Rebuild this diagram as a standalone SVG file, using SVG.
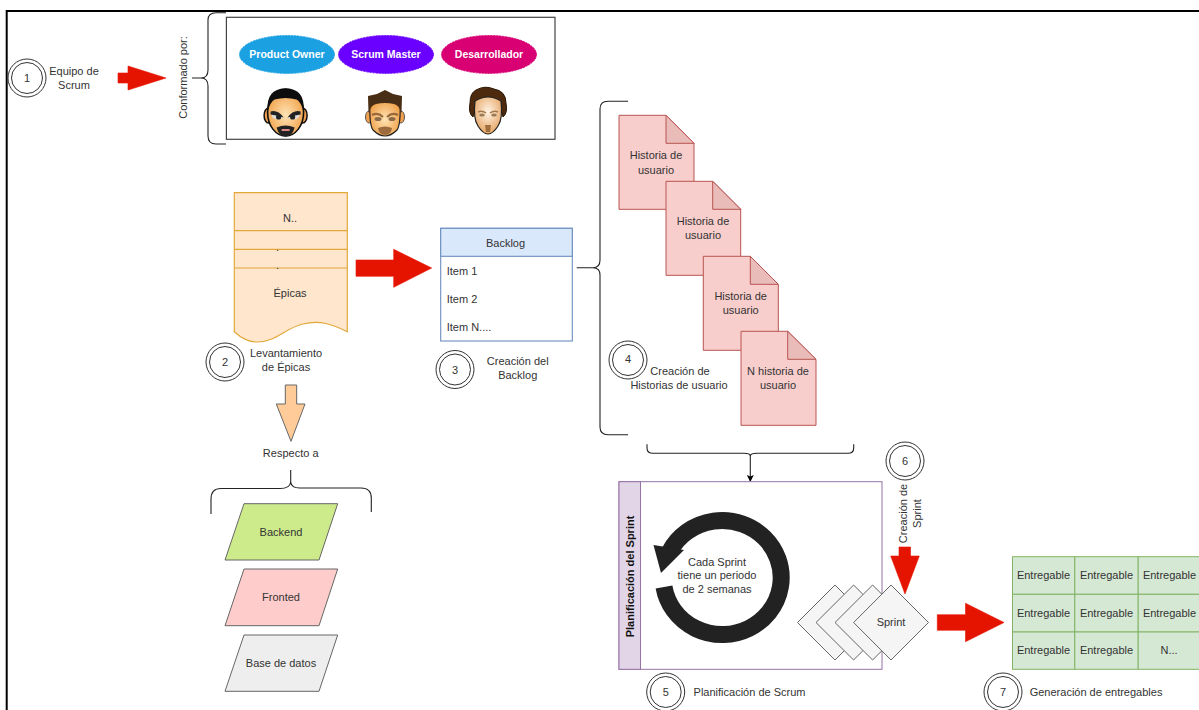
<svg xmlns="http://www.w3.org/2000/svg" width="1199" height="710" viewBox="0 0 1199 710">
<style>
text{font-family:"Liberation Sans",Arial,sans-serif;font-size:11px;fill:#333;text-anchor:middle;dominant-baseline:central}
.st{text-anchor:start}
.w{fill:#fff;font-weight:bold;font-size:10.5px}
.b{font-weight:bold;fill:#111}
.o{fill:#fff;stroke:#333;stroke-width:1}
.red{fill:#e51400;stroke:#e51400;stroke-width:.6}
.br{fill:none;stroke:#222;stroke-width:1.1}
.doc{fill:#f8cecc;stroke:#b85450;stroke-width:1}
.fold{fill:#e9bcba;stroke:#b85450;stroke-width:1}
.par{stroke:#666;stroke-width:1}
.dia{fill:#f5f5f5;stroke:#666;stroke-width:1}
.cell{fill:#d5e8d4;stroke:#82b366;stroke-width:1}
.ep{fill:#ffe6cc;stroke:#e2a93a;stroke-width:1.2}
.role{stroke-width:1;stroke-dasharray:2 1}
</style>
<defs>
<radialGradient id="skin" cx=".5" cy=".55" r=".6"><stop offset="0" stop-color="#ffe3b5"/><stop offset="1" stop-color="#ee9a3e"/></radialGradient>
<radialGradient id="skin3" cx=".5" cy=".4" r=".6"><stop offset="0" stop-color="#fff3e4"/><stop offset="1" stop-color="#e5a565"/></radialGradient>
<filter id="soft" x="-10%" y="-10%" width="120%" height="120%"><feGaussianBlur stdDeviation=".45"/></filter>
<marker id="tip" markerWidth="8" markerHeight="8" refX="6" refY="3.5" orient="auto" markerUnits="userSpaceOnUse"><path d="M0,0 L7,3.5 L0,7 L1.5,3.5Z" fill="#000"/></marker>
</defs>
<rect width="1199" height="710" fill="#fff"/>
<path id="frame" d="M6.7,710 V11 H1199" fill="none" stroke="#000" stroke-width="2"/>

<g id="connectors">
<polygon class="red" points="118,73 128,73 128,66 166,78 128,90 128,83 118,83"/>
<polygon class="red" points="356,260 393.7,260 393.7,249.3 431.7,268 393.7,287.3 393.7,276.3 356,276.3"/>
<polygon class="red" points="899,547 910.5,547 910.5,556 919.3,556 905,594 890.7,556 899,556"/>
<polygon class="red" points="937.3,614.7 965.5,614.7 965.5,603.3 1004,622.5 965.5,641.7 965.5,630.3 937.3,630.3"/>
<polygon points="285.3,385 296.7,385 296.7,404 305,404 291,441.3 276.3,404 285.3,404" fill="#ffcc99" stroke="#666" stroke-width="1"/>
<path class="br" d="M226,12.7 H216 Q208,12.7 208,20 V70 Q208,78 201,78 H192 M201,78 Q208,78 208,86 V136 Q208,144 216,144 H226"/>
<path class="br" d="M628,101.3 H608 Q600,101.3 600,109 V260 Q600,267.7 593,267.7 H576.7 M593,267.7 Q600,267.7 600,275 V427 Q600,434.7 608,434.7 H628"/>
<path class="br" d="M647,444.3 V448 Q647,453.3 653,453.3 H744 Q750,453.3 750.3,456 Q750.6,453.3 757,453.3 H848 Q853.7,453.3 853.7,448 V444.3"/>
<path class="br" d="M750.3,456 V481" marker-end="url(#tip)"/>
<path class="br" d="M211,514 V499 Q211,488.5 221,488.5 H280 Q290,488.5 290.7,482 Q291.4,488.5 301,488 H361 Q371.3,488 371.3,498 V512"/>
<path class="br" d="M290.7,470 V482"/>
</g>

<g id="step1">
<circle class="o" cx="27" cy="78" r="19"/><circle class="o" cx="27" cy="78" r="15.5"/>
<text x="27" y="78">1</text>
<text x="74" y="71">Equipo de</text><text x="74" y="85">Scrum</text>
</g>
<text id="conformado" transform="translate(183,77.5) rotate(-90)">Conformado por:</text>

<g id="equipo">
<rect x="226.4" y="17.3" width="328.6" height="122" fill="#fff" stroke="#444" stroke-width="1.2"/>
<ellipse class="role" cx="287" cy="54.5" rx="47.5" ry="19" fill="#1ba1e2" stroke="#1ba1e2"/>
<text class="w" x="287" y="54">Product Owner</text>
<ellipse class="role" cx="386" cy="54.5" rx="47.5" ry="19" fill="#6a00ff" stroke="#6a00ff"/>
<text class="w" x="386" y="54">Scrum Master</text>
<ellipse class="role" cx="489" cy="54.5" rx="47.5" ry="19" fill="#d80073" stroke="#d80073"/>
<text class="w" x="489" y="54">Desarrollador</text>
</g>

<g id="face1" transform="translate(285.6,112.5)" filter="url(#soft)">
<ellipse cx="-17" cy="3" rx="4.5" ry="7.5" fill="#f0a050" stroke="#111" stroke-width="1.5"/>
<ellipse cx="17" cy="3" rx="4.5" ry="7.5" fill="#f0a050" stroke="#111" stroke-width="1.5"/>
<ellipse cx="0" cy="0" rx="18" ry="23.5" fill="url(#skin)" stroke="#111" stroke-width="1.6"/>
<path d="M-18,-1 Q-20,-24 0,-24 Q20,-24 18,-1 Q15,-11 11,-13 Q0,-16 -11,-13 Q-15,-11 -18,-1Z" fill="#111"/>
<path d="M-15,0 Q-8,-3 -2,5 Q-8,9 -13,5Z M15,0 Q8,-3 2,5 Q8,9 13,5Z" fill="#ddd"/>
<path d="M-15,-1 Q-8,-3 -2,5 Q-8,3 -15,2Z M15,-1 Q8,-3 2,5 Q8,3 15,2Z" fill="#222"/>
<circle cx="-7" cy="4.500" r="2.600" fill="#222"/><circle cx="7" cy="4.500" r="2.600" fill="#222"/>
<path d="M-9,15 Q0,11 9,15 Q7,24 0,24 Q-7,24 -9,15Z" fill="#222"/>
<path d="M-4,16.500 H4 V18.500 H-4Z" fill="#d88"/>
</g>
<g id="face2" transform="translate(385,113)" filter="url(#soft)">
<ellipse cx="-16" cy="4" rx="3.500" ry="6" fill="#f0a050" stroke="#555"/>
<ellipse cx="16" cy="4" rx="3.500" ry="6" fill="#f0a050" stroke="#555"/>
<path d="M-15,-14 Q-16,12 -12,17 Q-6,23 0,23 Q6,23 12,17 Q16,12 15,-14Z" fill="url(#skin)" stroke="#222" stroke-width="1.2"/>
<path d="M-16.500,0 L-17,-17 L-8,-19 L0,-23 L8,-19 L17,-17 L16.500,0 Q14,-8 9,-9 Q0,-11 -9,-9 Q-14,-8 -16.500,0Z" fill="#4a2d14"/>
<path d="M-13,2 Q-7,-1 -2,4 M13,2 Q7,-1 2,4" fill="none" stroke="#96683a" stroke-width="2"/>
<ellipse cx="-7" cy="6" rx="3.500" ry="2" fill="#8a6a4a"/><ellipse cx="7" cy="6" rx="3.500" ry="2" fill="#8a6a4a"/>
<path d="M-7,15 Q0,12 7,15 Q6,22 0,22 Q-6,22 -7,15Z" fill="#9c6a3c"/>
</g>
<g id="face3" transform="translate(488,111)" filter="url(#soft)">
<path d="M-12,-21 Q-3,-26 6,-22 Q18,-20 18,-8 Q20,2 15,6 L12,-6 L-12,-6 L-15,6 Q-20,2 -18,-8 Q-18,-18 -12,-21Z" fill="#4d2a10" stroke="#2a1505"/>
<path d="M-13,-10 Q0,-18 13,-10 Q15,8 10,15 Q5,23 0,23 Q-5,23 -10,15 Q-15,8 -13,-10Z" fill="url(#skin3)" stroke="#222" stroke-width="1.2"/>
<path d="M-10,1 Q-6,-1 -2,2 M10,1 Q6,-1 2,2" fill="none" stroke="#a5774a" stroke-width="1.500"/>
<ellipse cx="-6" cy="4" rx="2.800" ry="1.600" fill="#9a7a55"/><ellipse cx="6" cy="4" rx="2.800" ry="1.600" fill="#9a7a55"/>
<path d="M-3,14 H3 L2,21 H-2Z" fill="#a06e3c"/>
</g>

<g id="epicas">
<path class="ep" d="M234.300,192.700 H347.300 V331.700 C332,324 320,320 303,324 C285,328 276,342 257,342 C247,342 240,337 234.300,331.700Z"/>
<path class="ep" d="M234.300,230.700 H347.300 M234.300,249.300 H347.300 M234.300,268 H347.300" fill="none"/>
<text x="290" y="218">N..</text>
<text x="277.500" y="246.500">.</text>
<text x="277.500" y="265">.</text>
<text x="290" y="293">Épicas</text>
</g>
<g id="step2">
<circle class="o" cx="225" cy="362" r="19"/><circle class="o" cx="225" cy="362" r="15.500"/>
<text x="225" y="362">2</text>
<text x="286" y="353">Levantamiento</text><text x="286" y="367">de Épicas</text>
</g>

<g id="backlog">
<rect x="440.700" y="228.300" width="131.600" height="112.700" fill="#fff" stroke="#6c8ebf" stroke-width="1.100"/>
<rect x="440.700" y="228.300" width="131.600" height="28" fill="#dae8fc" stroke="#6c8ebf" stroke-width="1.100"/>
<text x="505.500" y="243">Backlog</text>
<text class="st" x="446.700" y="271">Item 1</text>
<text class="st" x="446.700" y="299">Item 2</text>
<text class="st" x="446.700" y="327">Item N....</text>
</g>
<g id="step3">
<circle class="o" cx="455" cy="369.500" r="19"/><circle class="o" cx="455" cy="369.500" r="15.500"/>
<text x="455" y="369.500">3</text>
<text x="517.700" y="361">Creación del</text><text x="517.700" y="375">Backlog</text>
</g>

<g id="historia1">
<path class="doc" d="M619,115.300 H666 L694,143.300 V209.300 H619Z"/><path class="fold" d="M666,115.300 V143.300 H694Z"/>
<text x="656" y="155.300">Historia de</text><text x="656" y="169.700">usuario</text>
</g>
<g id="historia2">
<path class="doc" d="M666,181.300 H712.700 L740.700,209.300 V275.300 H666Z"/><path class="fold" d="M712.700,181.300 V209.300 H740.700Z"/>
<text x="703" y="221">Historia de</text><text x="703" y="235">usuario</text>
</g>
<g id="historia3">
<path class="doc" d="M703.300,256.300 H750.300 L778.300,284.300 V350.300 H703.300Z"/><path class="fold" d="M750.300,256.300 V284.300 H778.300Z"/>
<text x="740.700" y="296">Historia de</text><text x="740.700" y="310">usuario</text>
</g>
<g id="historia4">
<path class="doc" d="M741,331.300 H787.700 L816,359.300 V425.300 H741Z"/><path class="fold" d="M787.700,331.300 V359.300 H816Z"/>
<text x="778" y="371">N historia de</text><text x="778" y="385">usuario</text>
</g>
<g id="step4">
<circle class="o" cx="628" cy="360" r="19"/><circle class="o" cx="628" cy="360" r="15.500"/>
<text x="628" y="359">4</text>
<text x="680" y="371">Creación de</text><text x="679" y="385">Historias de usuario</text>
</g>

<text x="290.700" y="453">Respecto a</text>
<g id="backend"><polygon class="par" points="244,503.700 337.700,503.700 319,560 225,560" fill="#cdeb8b"/><text x="281" y="531.500">Backend</text></g>
<g id="fronted"><polygon class="par" points="244,569 337.700,569 319,625.700 225,625.700" fill="#ffcccc"/><text x="281" y="597">Fronted</text></g>
<g id="basedatos"><polygon class="par" points="244,635 337.700,635 319,691.300 225,691.300" fill="#eeeeee"/><text x="281" y="663">Base de datos</text></g>

<g id="planificacion">
<rect x="619" y="481.700" width="263" height="187.600" fill="#fff" stroke="#9673a6" stroke-width="1"/>
<rect x="619" y="481.700" width="21.500" height="187.600" fill="#e1d5e7" stroke="#9673a6" stroke-width="1"/>
<text class="b" transform="translate(630,576.500) rotate(-90)">Planificación del Sprint</text>
<path d="M664,587 A59,57 0 1 0 670,551" fill="none" stroke="#222" stroke-width="17"/>
<polygon points="653.500,545 684,550 661,573" fill="#222"/>
<text x="717" y="561.700">Cada Sprint</text><text x="717" y="575">tiene un periodo</text><text x="717" y="589">de 2 semanas</text>
</g>
<g id="sprint">
<polygon class="dia" points="835,585 872.500,622.500 835,660 797.500,622.500"/>
<polygon class="dia" points="853.600,585 891,622.500 853.600,660 816,622.500"/>
<polygon class="dia" points="872.600,585 910,622.500 872.600,660 835,622.500"/>
<polygon class="dia" points="891,585 928.500,622.500 891,660 853.600,622.500"/>
<text x="891" y="622">Sprint</text>
</g>
<g id="step5">
<circle class="o" cx="665.700" cy="692" r="19"/><circle class="o" cx="665.700" cy="692" r="15.500"/>
<text x="665.700" y="692">5</text>
<text class="st" x="693.600" y="692">Planificación de Scrum</text>
</g>
<g id="step6">
<circle class="o" cx="905" cy="461" r="19"/><circle class="o" cx="905" cy="461" r="15.500"/>
<text x="905" y="461">6</text>
<text transform="translate(903,513.500) rotate(-90)">Creación de</text>
<text transform="translate(917,513.500) rotate(-90)">Sprint</text>
</g>
<g id="entregables">
<rect class="cell" x="1012.500" y="556.700" width="62.300" height="37.600"/>
<rect class="cell" x="1074.800" y="556.700" width="63.400" height="37.600"/>
<rect class="cell" x="1138.200" y="556.700" width="63" height="37.600"/>
<rect class="cell" x="1012.500" y="594.300" width="62.300" height="37.700"/>
<rect class="cell" x="1074.800" y="594.300" width="63.400" height="37.700"/>
<rect class="cell" x="1138.200" y="594.300" width="63" height="37.700"/>
<rect class="cell" x="1012.500" y="632" width="62.300" height="37.300"/>
<rect class="cell" x="1074.800" y="632" width="63.400" height="37.300"/>
<rect class="cell" x="1138.200" y="632" width="63" height="37.300"/>
<text x="1043.500" y="575">Entregable</text><text x="1106.500" y="575">Entregable</text><text x="1169.500" y="575">Entregable</text>
<text x="1043.500" y="612.500">Entregable</text><text x="1106.500" y="612.500">Entregable</text><text x="1169.500" y="612.500">Entregable</text>
<text x="1043.500" y="650">Entregable</text><text x="1106.500" y="650">Entregable</text><text x="1169" y="650">N...</text>
</g>
<g id="step7">
<circle class="o" cx="1003" cy="692" r="19"/><circle class="o" cx="1003" cy="692" r="15.500"/>
<text x="1003" y="692">7</text>
<text class="st" x="1029.700" y="692">Generación de entregables</text>
</g>
</svg>
